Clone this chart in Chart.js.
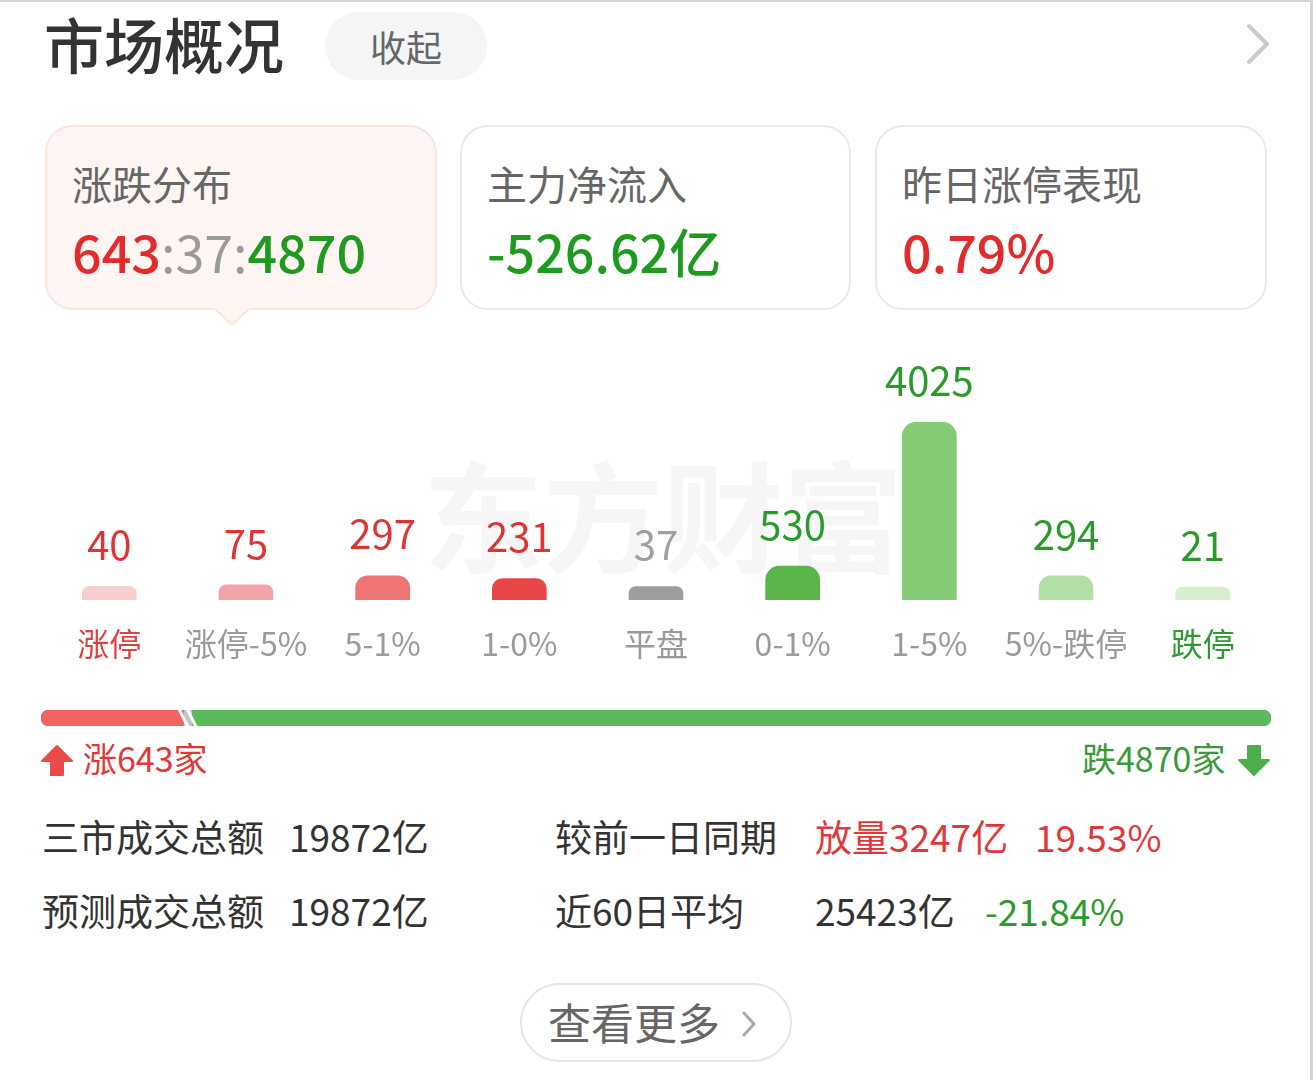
<!DOCTYPE html>
<html><head><meta charset="utf-8">
<script src="https://cdn.jsdelivr.net/npm/chart.js@4/dist/chart.umd.min.js"></script>
<style>
html,body{margin:0;padding:0;background:#fff;}
body{width:1313px;height:1080px;position:relative;overflow:hidden;font-family:"Noto Sans CJK SC","Noto Sans",sans-serif;}
.abs{position:absolute;white-space:nowrap;}
.card{position:absolute;top:125px;height:185px;border-radius:28px;box-sizing:border-box;border:2px solid #e9e9e9;background:#fff;}
.ct{position:absolute;left:25px;top:36px;font-size:40px;line-height:40px;color:#666;}
.cv{position:absolute;left:25px;top:98px;font-size:52px;line-height:52px;font-weight:500;letter-spacing:0px;}
.st{font-size:37px;line-height:37px;color:#333;}
</style></head>
<body>
<div class="abs" style="left:0;top:0;width:1310px;height:1078px;border-top:2px solid #d4d4d4;border-right:3px solid #d4d4d4;border-bottom:2px solid #d4d4d4;"></div>
<div class="abs" style="left:44px;top:13px;font-size:60px;line-height:60px;font-weight:500;color:#333;">市场概况</div>
<div class="abs" style="left:325px;top:12px;width:162px;height:68px;border-radius:34px;background:#f4f5f7;color:#666;font-size:36px;line-height:68px;text-align:center;">收起</div>
<svg class="abs" style="left:1240px;top:20px" width="40" height="50"><polyline points="9,6 27,24 9,42" fill="none" stroke="#c9c9c9" stroke-width="4" stroke-linecap="round" stroke-linejoin="round"/></svg>

<div class="card" style="left:45px;width:392px;background:#fff5f2;border-color:#fde4dc;">
  <div class="ct">涨跌分布</div>
  <div class="cv"><span style="color:#e22b2b">643</span><span style="color:#9a9a9a;font-weight:400">:37:</span><span style="color:#1e9a1e">4870</span></div>
</div>
<svg class="abs" style="left:212px;top:306px" width="40" height="22"><polygon points="2,2 20,19 38,2" fill="#fff5f2" stroke="#fde4dc" stroke-width="2"/><rect x="0" y="0" width="40" height="3" fill="#fff5f2"/></svg>
<div class="card" style="left:460px;width:391px;">
  <div class="ct">主力净流入</div>
  <div class="cv" style="color:#1e9a1e">-526.62亿</div>
</div>
<div class="card" style="left:875px;width:392px;">
  <div class="ct">昨日涨停表现</div>
  <div class="cv" style="color:#e22b2b">0.79%</div>
</div>

<div class="abs" style="left:423px;top:452px;font-size:120px;line-height:120px;font-weight:700;color:#f6f6f6;">东方财富</div>
<div class="abs" style="left:0;top:340px;width:1313px;height:340px;"><canvas id="bars"></canvas></div>
<div class="abs" style="left:0;top:710px;width:1313px;height:16px;"><canvas id="ratio"></canvas></div>

<svg class="abs" style="left:41px;top:744px" width="34" height="34"><polygon points="16,2 31,17 22,17 22,31 10,31 10,17 1,17" fill="#ec4a4a" stroke="#ec4a4a" stroke-width="2" stroke-linejoin="round"/></svg>
<div class="abs" style="left:83px;top:741px;font-size:34px;line-height:34px;color:#e03838;">涨643家</div>
<div class="abs" style="left:1082px;top:741px;font-size:34px;line-height:34px;color:#3a9a3a;">跌4870家</div>
<svg class="abs" style="left:1238px;top:744px" width="34" height="34"><polygon points="10,2 22,2 22,16 31,16 16,31 1,16 10,16" fill="#4caf4c" stroke="#4caf4c" stroke-width="2" stroke-linejoin="round"/></svg>

<div class="abs st" style="left:42px;top:818px;">三市成交总额</div>
<div class="abs st" style="left:289px;top:818px;">19872亿</div>
<div class="abs st" style="left:555px;top:818px;">较前一日同期</div>
<div class="abs st" style="left:815px;top:818px;color:#e03838;">放量3247亿</div>
<div class="abs st" style="left:1035px;top:818px;color:#e03838;">19.53%</div>
<div class="abs st" style="left:42px;top:892px;">预测成交总额</div>
<div class="abs st" style="left:289px;top:892px;">19872亿</div>
<div class="abs st" style="left:555px;top:892px;">近60日平均</div>
<div class="abs st" style="left:815px;top:892px;">25423亿</div>
<div class="abs st" style="left:985px;top:892px;color:#2e9a2e;">-21.84%</div>

<div class="abs" style="left:520px;top:983px;width:272px;height:79px;border-radius:40px;border:2px solid #e6e6e6;box-sizing:border-box;"></div>
<div class="abs" style="left:548px;top:1000px;font-size:43px;line-height:43px;color:#666;">查看更多</div>
<svg class="abs" style="left:738px;top:1008px" width="24" height="32"><polyline points="6,5 16,16 6,27" fill="none" stroke="#aaa" stroke-width="3" stroke-linecap="round" stroke-linejoin="round"/></svg>

<script>
// ---- data ----
const categories = ["涨停","涨停-5%","5-1%","1-0%","平盘","0-1%","1-5%","5%-跌停","跌停"];
const counts = [40, 75, 297, 231, 37, 530, 4025, 294, 21];
const upCount = 643;
const flatCount = 37;
const downCount = 4870;

// ---- styles ----
const barColors = ["#f8cdcd","#f2a3a7","#ee7571","#e84646","#9d9d9d","#5bb548","#85cb76","#b1dfa5","#d5eecd"];
const valueColors = ["#e03434","#e03434","#e03434","#e03434","#a0a0a0","#2a9a2a","#2a9a2a","#2a9a2a","#2a9a2a"];
const labelColors = ["#e04040","#9a9a9a","#9a9a9a","#9a9a9a","#9a9a9a","#9a9a9a","#9a9a9a","#9a9a9a","#2f9a2f"];
const FONT = '"Noto Sans CJK SC","Noto Sans",sans-serif';
const BAR_BASE = -300; // minimum visible bar height offset

const valueLabels = {
  id: 'valueLabels',
  afterDatasetsDraw(chart) {
    const ctx = chart.ctx;
    const meta = chart.getDatasetMeta(0);
    ctx.save();
    ctx.font = '40px ' + FONT;
    ctx.textAlign = 'center';
    ctx.textBaseline = 'alphabetic';
    meta.data.forEach((el, i) => {
      ctx.fillStyle = valueColors[i];
      ctx.fillText(String(counts[i]), el.x, el.y - 26);
    });
    ctx.restore();
  }
};

new Chart(document.getElementById('bars'), {
  type: 'bar',
  data: {
    labels: categories,
    datasets: [{
      data: counts,
      base: BAR_BASE,
      backgroundColor: barColors,
      borderRadius: {topLeft: 14, topRight: 14, bottomLeft: 0, bottomRight: 0},
      borderSkipped: 'bottom',
      barPercentage: 0.4,
      categoryPercentage: 1
    }]
  },
  options: {
    responsive: true,
    maintainAspectRatio: false,
    animation: false,
    layout: {padding: {left: 41, right: 42, top: 20, bottom: 0}},
    plugins: {legend: {display: false}, tooltip: {enabled: false}},
    scales: {
      x: {
        grid: {display: false, drawTicks: false},
        border: {display: false},
        ticks: {
          padding: 25,
          font: {size: 32, family: FONT},
          color: (c) => labelColors[c.index]
        },
        afterFit: (s) => { s.height = 80; }
      },
      y: {display: false, min: BAR_BASE, max: 5530}
    }
  },
  plugins: [valueLabels]
});

const slashes = {
  id: 'slashes',
  afterDatasetsDraw(chart) {
    const ctx = chart.ctx;
    const a = chart.chartArea;
    ctx.save();
    ctx.strokeStyle = '#ffffff';
    ctx.lineWidth = 3;
    [0, 1].forEach(di => {
      const el = chart.getDatasetMeta(di).data[0];
      const xb = el.x;
      ctx.beginPath();
      ctx.moveTo(xb - 5, a.top - 2);
      ctx.lineTo(xb + 5, a.bottom + 2);
      ctx.stroke();
    });
    ctx.restore();
  }
};

new Chart(document.getElementById('ratio'), {
  type: 'bar',
  data: {
    labels: [''],
    datasets: [
      {data: [upCount], backgroundColor: '#f26464', borderRadius: {topLeft: 8, bottomLeft: 8, topRight: 0, bottomRight: 0}, borderSkipped: false},
      {data: [flatCount], backgroundColor: '#c4c4c4', borderRadius: 0, borderSkipped: false},
      {data: [downCount], backgroundColor: '#5cb85c', borderRadius: {topLeft: 0, bottomLeft: 0, topRight: 8, bottomRight: 8}, borderSkipped: false}
    ]
  },
  options: {
    indexAxis: 'y',
    responsive: true,
    maintainAspectRatio: false,
    animation: false,
    layout: {padding: {left: 41, right: 42, top: 0, bottom: 0}},
    datasets: {bar: {barPercentage: 1, categoryPercentage: 1}},
    plugins: {legend: {display: false}, tooltip: {enabled: false}},
    scales: {
      x: {display: false, stacked: true, min: 0, max: upCount + flatCount + downCount},
      y: {display: false, stacked: true}
    }
  },
  plugins: [slashes]
});
</script>
</body></html>
